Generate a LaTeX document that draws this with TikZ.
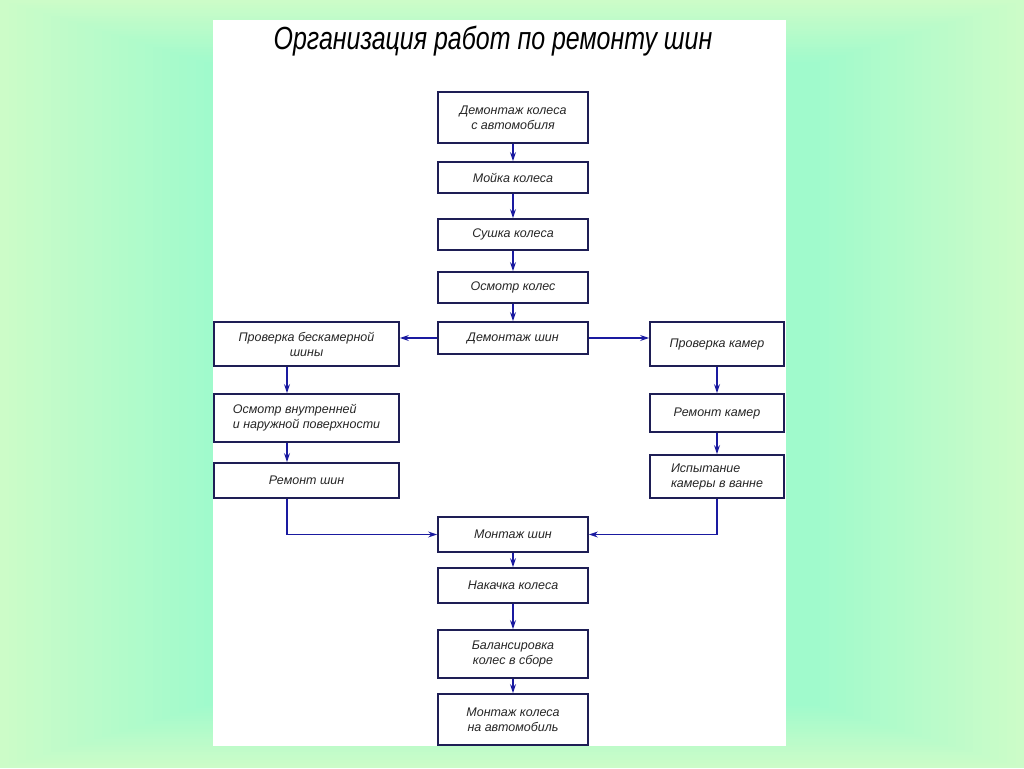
\documentclass[tikz,border=0pt]{standalone}
\usepackage{fontspec}
\setmainfont{Liberation Sans}
\newfontfamily\titlefont{Liberation Sans}[FakeStretch=0.78]
\usetikzlibrary{arrows.meta,calc}
\definecolor{bgout}{HTML}{CCFCC8}
\definecolor{bgin}{HTML}{A0FACC}
\definecolor{boxline}{HTML}{1E1E55}
\definecolor{arrowc}{HTML}{1A1AA0}
\tikzset{
  box/.style={draw=boxline, line width=1.8pt, fill=white, inner sep=2pt,
    font=\fontsize{12.5}{15}\selectfont\itshape, text=black!85},
  conn/.style={draw=arrowc, line width=1.7pt, -{Stealth[length=9pt,width=6pt]}},
}
\begin{document}
\begin{tikzpicture}[x=1pt,y=-1pt]
\useasboundingbox (0,0) rectangle (1024,768);
\foreach \i in {0,...,24}{
  \pgfmathsetmacro\p{100*\i/24}
  \fill[bgin!\p!bgout] ({\i*8.5},{\i*2.6}) rectangle ({1024-\i*8.5},{768-\i*2.6});
}
\fill[white] (213,20) rectangle (786,746);

\node[font=\titlefont\fontsize{32}{36}\selectfont\itshape] (title) at (493,41) {Организация работ по ремонту шин};

% centre column
\node[box, minimum width=150pt, minimum height=51pt, align=center] (n1) at (513,117.5) {Демонтаж колеса\\с автомобиля};
\node[box, minimum width=150pt, minimum height=31pt] (n2) at (513,177.5) {Мойка колеса};
\node[box, minimum width=150pt, minimum height=31pt] (n3) at (513,234.5) {Сушка колеса};
\node[box, minimum width=150pt, minimum height=31pt] (n4) at (513,287.5) {Осмотр колес};
\node[box, minimum width=150pt, minimum height=32pt] (n5) at (513,338) {Демонтаж шин};

% left column
\node[box, minimum width=185pt, minimum height=44pt, align=center] (l1) at (306.5,344) {Проверка бескамерной\\шины};
\node[box, minimum width=185pt, minimum height=48pt, align=left] (l2) at (306.5,418) {Осмотр внутренней\\и наружной поверхности};
\node[box, minimum width=185pt, minimum height=35pt] (l3) at (306.5,480.5) {Ремонт шин};

% right column
\node[box, minimum width=134pt, minimum height=44pt] (r1) at (717,344) {Проверка камер};
\node[box, minimum width=134pt, minimum height=38pt] (r2) at (717,413) {Ремонт камер};
\node[box, minimum width=134pt, minimum height=43pt, align=left] (r3) at (717,476.5) {Испытание\\камеры в ванне};

% lower centre
\node[box, minimum width=150pt, minimum height=35pt] (m1) at (513,534.5) {Монтаж шин};
\node[box, minimum width=150pt, minimum height=35pt] (m2) at (513,585.5) {Накачка колеса};
\node[box, minimum width=150pt, minimum height=48pt, align=center] (m3) at (513,654) {Балансировка\\колес в сборе};
\node[box, minimum width=150pt, minimum height=51pt, align=center] (m4) at (513,719.5) {Монтаж колеса\\на автомобиль};

\coordinate (xl) at (287,0);

\draw[conn] (n1) -- (n2);
\draw[conn] (n2) -- (n3);
\draw[conn] (n3) -- (n4);
\draw[conn] (n4) -- (n5);
\draw[conn] (n5.west) -- (n5.west -| l1.east);
\draw[conn] (n5.east) -- (n5.east -| r1.west);
\draw[conn] (l1.south -| xl) -- (l2.north -| xl);
\draw[conn] (l2.south -| xl) -- (l3.north -| xl);
\draw[conn] (r1) -- (r2);
\draw[conn] (r2) -- (r3);
\draw[conn] (l3.south -| xl) |- (m1.west);
\draw[conn] (r3.south) |- (m1.east);
\draw[conn] (m1) -- (m2);
\draw[conn] (m2) -- (m3);
\draw[conn] (m3) -- (m4);
\end{tikzpicture}
\end{document}
